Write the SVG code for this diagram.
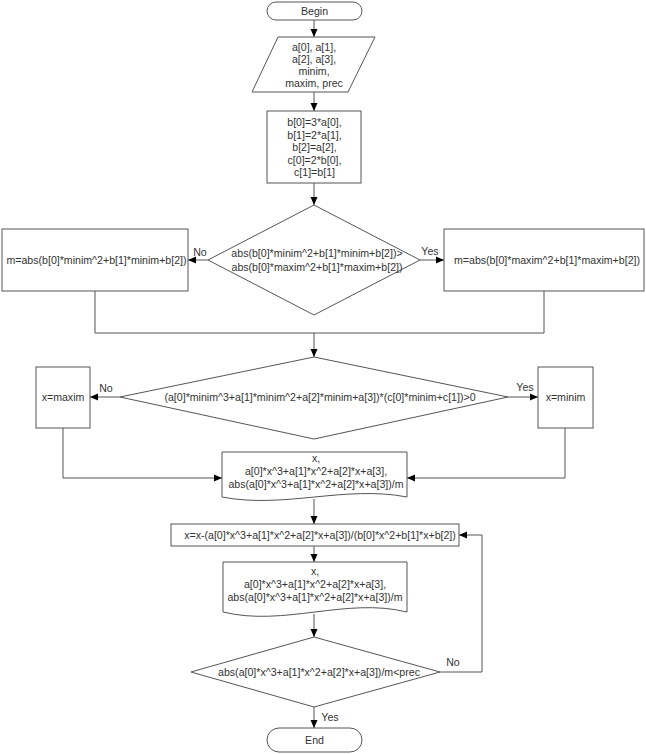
<svg xmlns="http://www.w3.org/2000/svg" width="646" height="754" viewBox="0 0 646 754">
<defs>
<marker id="arr" markerUnits="userSpaceOnUse" markerWidth="10" markerHeight="10" viewBox="0 0 10 10" refX="9" refY="5" orient="auto">
<path d="M1,1.5 L9,5 L1,8.5 Z" fill="#000"/>
</marker>
<style>
.s{fill:#fff;stroke:#555;stroke-width:1}
.t{font-family:"Liberation Sans",Arial,sans-serif;font-size:10.6px;fill:#333;text-anchor:middle;dominant-baseline:central}
.c{fill:none;stroke:#555;stroke-width:1}
.a{marker-end:url(#arr)}
.l{font-family:"Liberation Sans",Arial,sans-serif;font-size:10.6px;fill:#333;text-anchor:middle;dominant-baseline:central}
</style>
</defs>
<rect width="646" height="754" fill="#fff"/>
<g id="connectors">
<path class="c a" d="M314,20 V37"/>
<path class="c a" d="M314,92 V111"/>
<path class="c a" d="M314,183 V205"/>
<path class="c a" d="M208,260 H188"/>
<path class="c a" d="M420,260 H444"/>
<path class="c" d="M95,291 V333 H544 V291"/>
<path class="c a" d="M314,333 V357"/>
<path class="c a" d="M120,397 H90"/>
<path class="c a" d="M508,397 H538"/>
<path class="c a" d="M63,428 V478 H222"/>
<path class="c a" d="M565,428 V478 H407"/>
<path class="c a" d="M314,499 V524"/>
<path class="c a" d="M314,546 V562"/>
<path class="c a" d="M314,614 V637"/>
<path class="c a" d="M440,672 H482 V535 H459"/>
<path class="c a" d="M314,707 V728"/>
<text class="l" x="200" y="252">No</text>
<text class="l" x="430" y="251">Yes</text>
<text class="l" x="106" y="388">No</text>
<text class="l" x="525" y="387">Yes</text>
<text class="l" x="453" y="662">No</text>
<text class="l" x="330" y="717">Yes</text>
</g>
<g id="begin">
<rect class="s" x="267" y="2" width="95" height="18" rx="9"/>
<text class="t" x="314.5" y="11">Begin</text>
</g>
<g id="input">
<polygon class="s" points="278,37 375,37 348,92 252,92"/>
<text class="t" x="314" y="47">a[0], a[1],</text>
<text class="t" x="314" y="59">a[2], a[3],</text>
<text class="t" x="314" y="71">minim,</text>
<text class="t" x="314" y="83">maxim, prec</text>
</g>
<g id="init">
<rect class="s" x="267" y="111" width="94" height="72"/>
<text class="t" x="314.5" y="122">b[0]=3*a[0],</text>
<text class="t" x="314.5" y="134.5">b[1]=2*a[1],</text>
<text class="t" x="314.5" y="147">b[2]=a[2],</text>
<text class="t" x="314.5" y="159.5">c[0]=2*b[0],</text>
<text class="t" x="314.5" y="172">c[1]=b[1]</text>
</g>
<g id="cond1">
<polygon class="s" points="314,205 420,260 314,315 208,260"/>
<text class="t" x="317" y="253">abs(b[0]*minim^2+b[1]*minim+b[2])&gt;</text>
<text class="t" x="317" y="267">abs(b[0]*maxim^2+b[1]*maxim+b[2])</text>
</g>
<g id="m-minim">
<rect class="s" x="2" y="229" width="186" height="62"/>
<text class="t" x="96.5" y="260">m=abs(b[0]*minim^2+b[1]*minim+b[2])</text>
</g>
<g id="m-maxim">
<rect class="s" x="444" y="229" width="200" height="62"/>
<text class="t" x="547" y="260">m=abs(b[0]*maxim^2+b[1]*maxim+b[2])</text>
</g>
<g id="cond2">
<polygon class="s" points="314,357 508,397 314,439 120,397"/>
<text class="t" x="320" y="397">(a[0]*minim^3+a[1]*minim^2+a[2]*minim+a[3])*(c[0]*minim+c[1])&gt;0</text>
</g>
<g id="x-maxim">
<rect class="s" x="36" y="367" width="54" height="61"/>
<text class="t" x="63" y="397">x=maxim</text>
</g>
<g id="x-minim">
<rect class="s" x="538" y="367" width="55" height="61"/>
<text class="t" x="565.5" y="397">x=minim</text>
</g>
<g id="out1">
<path class="s" d="M222,452 H407 V497 C345,485 284,509 222,497 Z"/>
<text class="t" x="316" y="458">x,</text>
<text class="t" x="316" y="471">a[0]*x^3+a[1]*x^2+a[2]*x+a[3],</text>
<text class="t" x="316" y="484">abs(a[0]*x^3+a[1]*x^2+a[2]*x+a[3])/m</text>
</g>
<g id="step">
<rect class="s" x="171" y="524" width="288" height="22"/>
<text class="t" x="320" y="535">x=x-(a[0]*x^3+a[1]*x^2+a[2]*x+a[3])/(b[0]*x^2+b[1]*x+b[2])</text>
</g>
<g id="out2">
<path class="s" d="M223,562 H407 V612 C346,597 284,627 223,612 Z"/>
<text class="t" x="315" y="571">x,</text>
<text class="t" x="315" y="584">a[0]*x^3+a[1]*x^2+a[2]*x+a[3],</text>
<text class="t" x="315" y="597">abs(a[0]*x^3+a[1]*x^2+a[2]*x+a[3])/m</text>
</g>
<g id="cond3">
<polygon class="s" points="314,637 440,672 314,707 191,672"/>
<text class="t" x="319" y="672">abs(a[0]*x^3+a[1]*x^2+a[2]*x+a[3])/m&lt;prec</text>
</g>
<g id="end">
<rect class="s" x="267" y="728" width="95" height="24" rx="12"/>
<text class="t" x="314.5" y="740">End</text>
</g>
</svg>
